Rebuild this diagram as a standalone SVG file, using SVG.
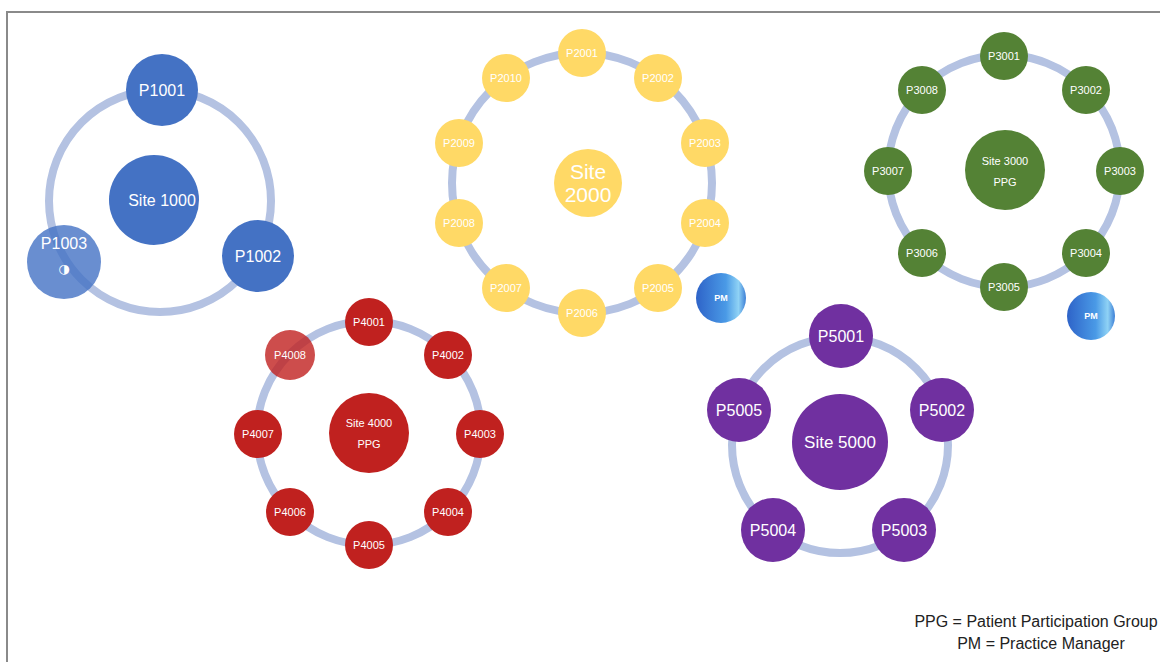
<svg xmlns="http://www.w3.org/2000/svg" width="1160" height="662" viewBox="0 0 1160 662">
<style>
text{font-family:"Liberation Sans","DejaVu Sans",sans-serif;fill:#fff;text-anchor:middle;dominant-baseline:central}
.ring{fill:none;stroke:#b4c2e2;stroke-width:8}
.b{fill:#4472c4}.y{fill:#ffd966}.g{fill:#548235}.r{fill:#c0211f}.p{fill:#7030a0}
.s11{font-size:11px}.s16{font-size:16px}
.leg{fill:#222;font-size:16px}
.sym{font-family:"DejaVu Sans",sans-serif;font-size:13px}
</style>
<defs>
<linearGradient id="pm" x1="0" y1="0" x2="1" y2="0">
<stop offset="0" stop-color="#2e63c8"/><stop offset="0.6" stop-color="#4a9ae6"/><stop offset="0.85" stop-color="#8fd2f5"/><stop offset="1" stop-color="#3d7fd6"/>
</linearGradient>
</defs>
<rect width="1160" height="662" fill="#fff"/>
<path d="M7 662 V12 H1160" fill="none" stroke="#8a8a8a" stroke-width="2"/>
<g id="connectors">
<circle class="ring" cx="160" cy="201" r="111"/>
<circle class="ring" cx="582" cy="183" r="130"/>
<circle class="ring" cx="1004" cy="171" r="116"/>
<circle class="ring" cx="369" cy="433" r="112"/>
<circle class="ring" cx="840" cy="445" r="108"/>
</g>
<g id="site1000"><circle class="b" cx="154" cy="200" r="45"/><text class="s16" x="162" y="200">Site 1000</text></g>
<g id="P1001"><circle class="b" cx="162" cy="90" r="36"/><text class="s16" x="162" y="90">P1001</text></g>
<g id="P1002"><circle class="b" cx="258" cy="256" r="36"/><text class="s16" x="258" y="256">P1002</text></g>
<g id="P1003"><circle class="b" cx="64" cy="262" r="37" opacity="0.8"/><text class="s16" x="64" y="243">P1003</text><text class="sym" x="64" y="268">◑</text></g>

<g id="site2000"><circle class="y" cx="588" cy="183" r="34"/><text font-size="21" x="588" y="171">Site</text><text font-size="21" x="588" y="194">2000</text></g>
<g id="P2001"><circle class="y" cx="582" cy="53" r="24"/><text class="s11" x="582" y="53">P2001</text></g>
<g id="P2002"><circle class="y" cx="658" cy="78" r="24"/><text class="s11" x="658" y="78">P2002</text></g>
<g id="P2003"><circle class="y" cx="705" cy="143" r="24"/><text class="s11" x="705" y="143">P2003</text></g>
<g id="P2004"><circle class="y" cx="705" cy="223" r="24"/><text class="s11" x="705" y="223">P2004</text></g>
<g id="P2005"><circle class="y" cx="658" cy="288" r="24"/><text class="s11" x="658" y="288">P2005</text></g>
<g id="P2006"><circle class="y" cx="582" cy="313" r="24"/><text class="s11" x="582" y="313">P2006</text></g>
<g id="P2007"><circle class="y" cx="506" cy="288" r="24"/><text class="s11" x="506" y="288">P2007</text></g>
<g id="P2008"><circle class="y" cx="459" cy="223" r="24"/><text class="s11" x="459" y="223">P2008</text></g>
<g id="P2009"><circle class="y" cx="459" cy="143" r="24"/><text class="s11" x="459" y="143">P2009</text></g>
<g id="P2010"><circle class="y" cx="506" cy="78" r="24"/><text class="s11" x="506" y="78">P2010</text></g>
<g id="PM2000"><circle fill="url(#pm)" cx="721" cy="298" r="25"/><text font-size="9" font-weight="bold" x="721" y="298">PM</text></g>

<g id="site3000"><circle class="g" cx="1005" cy="170" r="40"/><text class="s11" x="1005" y="161">Site 3000</text><text class="s11" x="1005" y="182">PPG</text></g>
<g id="P3001"><circle class="g" cx="1004" cy="56" r="24"/><text class="s11" x="1004" y="56">P3001</text></g>
<g id="P3002"><circle class="g" cx="1086" cy="90" r="24"/><text class="s11" x="1086" y="90">P3002</text></g>
<g id="P3003"><circle class="g" cx="1120" cy="171" r="24"/><text class="s11" x="1120" y="171">P3003</text></g>
<g id="P3004"><circle class="g" cx="1086" cy="253" r="24"/><text class="s11" x="1086" y="253">P3004</text></g>
<g id="P3005"><circle class="g" cx="1004" cy="287" r="24"/><text class="s11" x="1004" y="287">P3005</text></g>
<g id="P3006"><circle class="g" cx="922" cy="253" r="24"/><text class="s11" x="922" y="253">P3006</text></g>
<g id="P3007"><circle class="g" cx="888" cy="171" r="24"/><text class="s11" x="888" y="171">P3007</text></g>
<g id="P3008"><circle class="g" cx="922" cy="90" r="24"/><text class="s11" x="922" y="90">P3008</text></g>
<g id="PM3000"><circle fill="url(#pm)" cx="1091" cy="316" r="24"/><text font-size="9" font-weight="bold" x="1091" y="316">PM</text></g>

<g id="site4000"><circle class="r" cx="369" cy="433" r="40"/><text class="s11" x="369" y="423">Site 4000</text><text class="s11" x="369" y="444">PPG</text></g>
<g id="P4001"><circle class="r" cx="369" cy="322" r="24"/><text class="s11" x="369" y="322">P4001</text></g>
<g id="P4002"><circle class="r" cx="448" cy="355" r="24"/><text class="s11" x="448" y="355">P4002</text></g>
<g id="P4003"><circle class="r" cx="480" cy="434" r="24"/><text class="s11" x="480" y="434">P4003</text></g>
<g id="P4004"><circle class="r" cx="448" cy="512" r="24"/><text class="s11" x="448" y="512">P4004</text></g>
<g id="P4005"><circle class="r" cx="369" cy="545" r="24"/><text class="s11" x="369" y="545">P4005</text></g>
<g id="P4006"><circle class="r" cx="290" cy="512" r="24"/><text class="s11" x="290" y="512">P4006</text></g>
<g id="P4007"><circle class="r" cx="258" cy="434" r="24"/><text class="s11" x="258" y="434">P4007</text></g>
<g id="P4008"><circle class="r" cx="290" cy="355" r="25" opacity="0.8"/><text class="s11" x="290" y="355">P4008</text></g>

<g id="site5000"><circle class="p" cx="840" cy="442" r="48"/><text font-size="17" x="840" y="442">Site 5000</text></g>
<g id="P5001"><circle class="p" cx="841" cy="336" r="32"/><text class="s16" x="841" y="336">P5001</text></g>
<g id="P5002"><circle class="p" cx="942" cy="410" r="32"/><text class="s16" x="942" y="410">P5002</text></g>
<g id="P5003"><circle class="p" cx="904" cy="530" r="32"/><text class="s16" x="904" y="530">P5003</text></g>
<g id="P5004"><circle class="p" cx="773" cy="530" r="32"/><text class="s16" x="773" y="530">P5004</text></g>
<g id="P5005"><circle class="p" cx="739" cy="410" r="32"/><text class="s16" x="739" y="410">P5005</text></g>

<g id="legend">
<text class="leg" x="1036" y="621">PPG = Patient Participation Group</text>
<text class="leg" x="1041" y="643">PM = Practice Manager</text>
</g>
</svg>
